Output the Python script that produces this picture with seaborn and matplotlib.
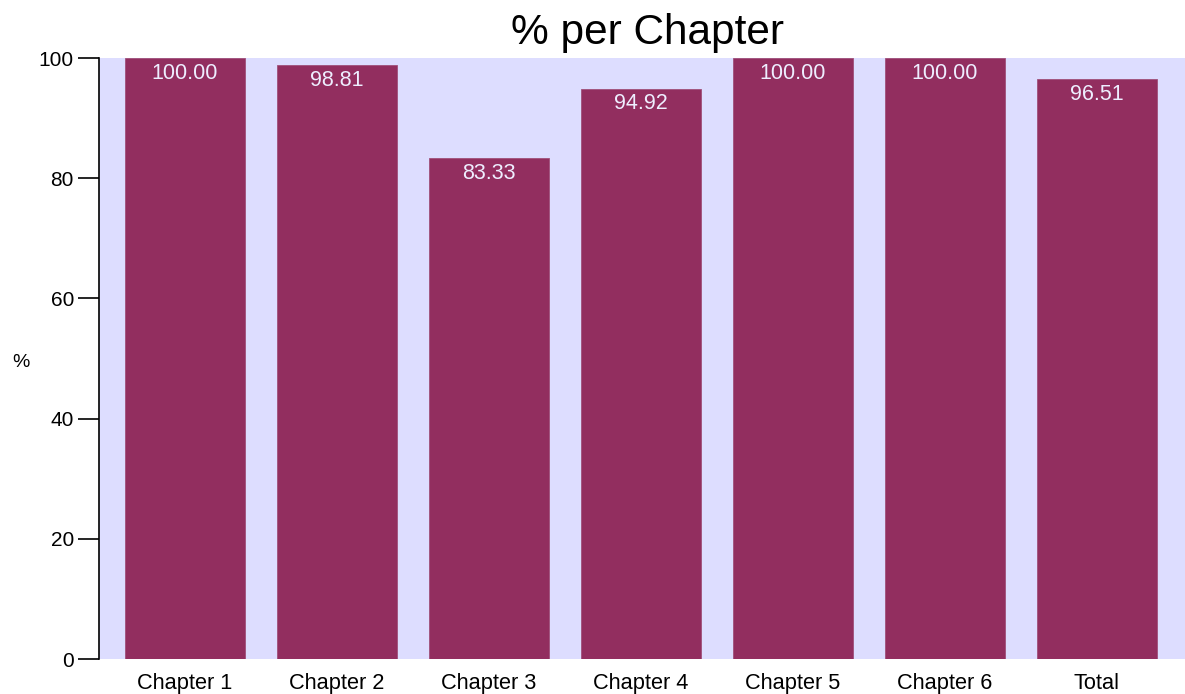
import matplotlib
matplotlib.use("Agg")
import matplotlib.pyplot as plt
import seaborn as sns
import pandas as pd

categories = ["Chapter 1", "Chapter 2", "Chapter 3", "Chapter 4", "Chapter 5", "Chapter 6", "Total"]
values = [100.00, 98.81, 83.33, 94.92, 100.00, 100.00, 96.51]
yticks = [0, 20, 40, 60, 80, 100]

sns.set_theme(style="white")
plt.rcParams["font.family"] = ["Liberation Sans", "DejaVu Sans"]
plt.rcParams["text.color"] = "black"
plt.rcParams["axes.labelcolor"] = "black"
plt.rcParams["xtick.color"] = "black"
plt.rcParams["ytick.color"] = "black"

df = pd.DataFrame({"cat": categories, "val": values})

fig = plt.figure(figsize=(11.85, 6.94), dpi=100)
ax = fig.add_axes([0.0835, 0.0504, 0.9165, 0.866])
ax.set_facecolor("#DDDDFF")

sns.barplot(data=df, x="cat", y="val", color="#922E5F", saturation=1,
            width=0.79, ax=ax, edgecolor="#A0507A", linewidth=0.6)

ax.set_xlim(-0.566, 6.58)
ax.set_ylim(0, 100)
ax.set_yticks(yticks)
ax.set_yticklabels([str(t) for t in yticks], fontsize=15)
ax.tick_params(axis="y", direction="out", length=15, width=1.2, color="black", pad=3, left=True)
ax.tick_params(axis="x", length=0, labelsize=15.7, pad=10)

for s in ["top", "right", "bottom"]:
    ax.spines[s].set_visible(False)
ax.spines["left"].set_color("black")
ax.spines["left"].set_linewidth(1.2)

for i, v in enumerate(values):
    ax.text(i, v - 2.5, f"{v:.2f}", ha="center", va="center", color="#EEEEFF", fontsize=15.5)

ax.set_xlabel("")
ax.set_ylabel("%", rotation=0, fontsize=14, labelpad=0)
ax.yaxis.set_label_coords(-0.072, 0.48)
ax.set_title("% per Chapter", fontsize=30.5, pad=10, x=0.505)

fig.savefig("out.png", dpi=100)
